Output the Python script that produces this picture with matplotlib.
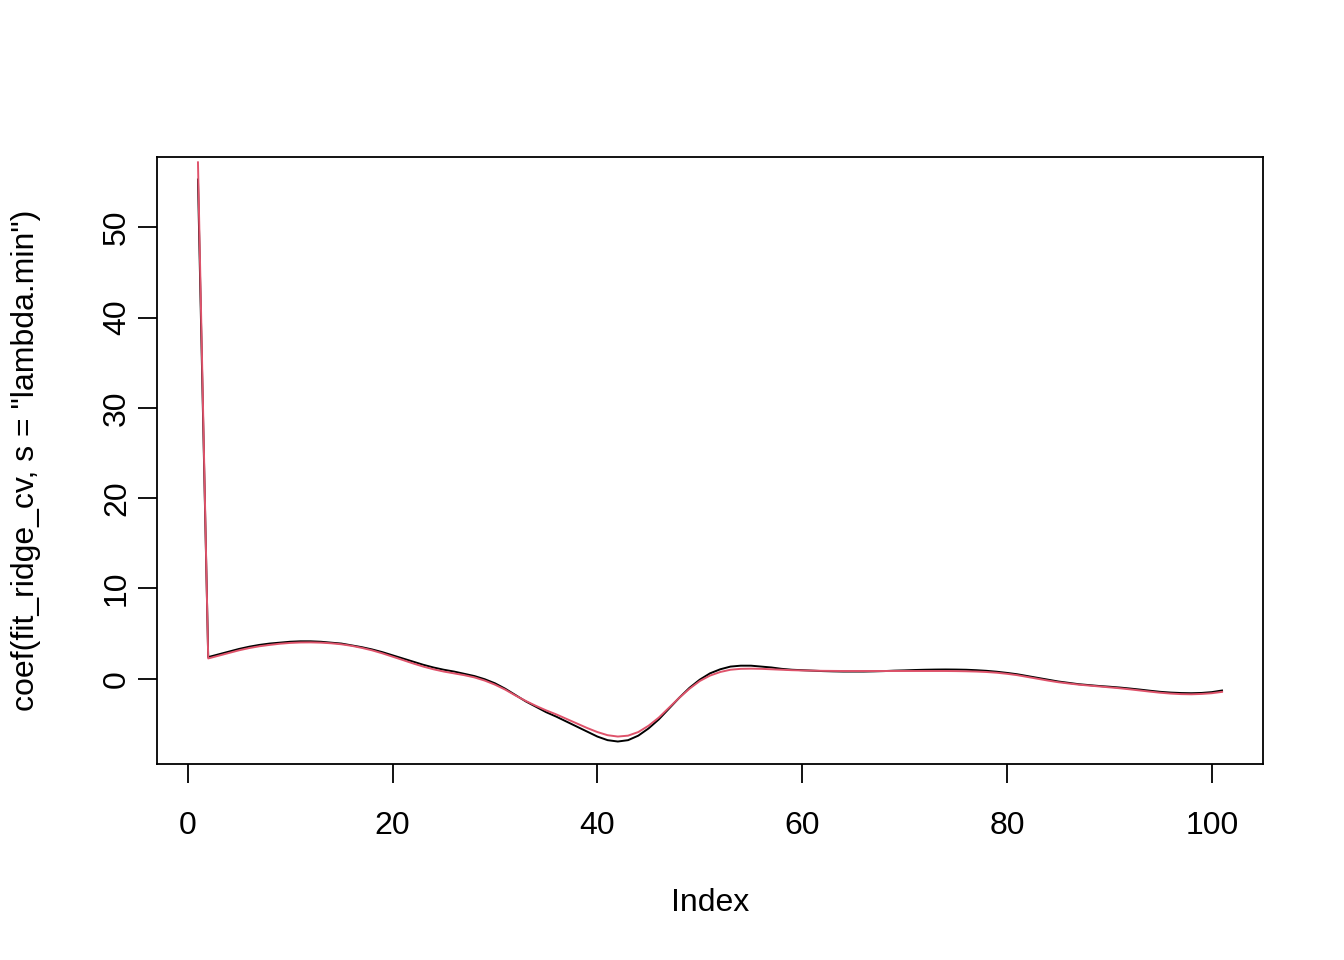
import numpy as np
import matplotlib.pyplot as plt

plt.rcParams['font.family'] = ['Liberation Sans', 'DejaVu Sans']

# Koeffizienten, Index 1..101
idx = list(range(1, 102))

coef_black = [
    55.3, 2.4, 2.7, 3.0, 3.3, 3.55, 3.75, 3.9, 4.0, 4.1,
    4.15, 4.15, 4.1, 4.0, 3.9, 3.7, 3.5, 3.25, 2.95, 2.6,
    2.25, 1.9, 1.55, 1.25, 1.0, 0.8, 0.55, 0.3, -0.05, -0.5,
    -1.1, -1.8, -2.5, -3.1, -3.7, -4.2, -4.75, -5.3, -5.85, -6.4,
    -6.8, -6.95, -6.8, -6.3, -5.5, -4.5, -3.3, -2.1, -1.0, -0.1,
    0.6, 1.05, 1.35, 1.45, 1.45, 1.35, 1.25, 1.1, 1.0, 0.95,
    0.9, 0.85, 0.82, 0.8, 0.8, 0.8, 0.82, 0.85, 0.9, 0.93,
    0.97, 1.0, 1.02, 1.03, 1.02, 1.0, 0.95, 0.88, 0.78, 0.65,
    0.5, 0.3, 0.1, -0.1, -0.3, -0.45, -0.6, -0.7, -0.8, -0.88,
    -0.97, -1.08, -1.2, -1.33, -1.45, -1.53, -1.58, -1.6, -1.57, -1.48,
    -1.3,
]

coef_red = [
    57.2, 2.25, 2.55, 2.85, 3.15, 3.4, 3.6, 3.75, 3.88, 3.97,
    4.02, 4.03, 4.0, 3.93, 3.82, 3.65, 3.42, 3.15, 2.82, 2.45,
    2.08, 1.7, 1.35, 1.05, 0.8, 0.6, 0.4, 0.15, -0.2, -0.65,
    -1.2, -1.85, -2.45, -3.0, -3.5, -3.95, -4.45, -4.95, -5.45, -5.9,
    -6.25, -6.4, -6.3, -5.9, -5.2, -4.3, -3.2, -2.1, -1.1, -0.25,
    0.35, 0.75, 1.0, 1.1, 1.12, 1.1, 1.05, 1.0, 0.95, 0.92,
    0.9, 0.88, 0.87, 0.86, 0.86, 0.86, 0.86, 0.86, 0.86, 0.86,
    0.86, 0.86, 0.86, 0.86, 0.85, 0.83, 0.8, 0.75, 0.67, 0.55,
    0.4, 0.2, 0.0, -0.2, -0.38, -0.52, -0.65, -0.75, -0.85, -0.95,
    -1.05, -1.17, -1.3, -1.43, -1.55, -1.64, -1.7, -1.72, -1.68, -1.6,
    -1.45,
]

xticks = [0, 20, 40, 60, 80, 100]
yticks = [0, 10, 20, 30, 40, 50]

fig = plt.figure(figsize=(13.44, 9.6), dpi=100)
ax = fig.add_axes([157 / 1344, 1 - 764 / 960, (1263 - 157) / 1344, (764 - 157) / 960])

ax.plot(idx, coef_black, color="black", lw=1.4)
ax.plot(idx, coef_red, color="#DF536B", lw=1.4)

# R-artige Achsenbereiche (4 % Rand, nach erster Serie)
xr = max(idx) - min(idx)
ax.set_xlim(min(idx) - 0.04 * xr, max(idx) + 0.04 * xr)
yr = max(coef_black) - min(coef_black)
ax.set_ylim(min(coef_black) - 0.04 * yr, max(coef_black) + 0.04 * yr)

ax.set_xticks(xticks)
ax.set_yticks(yticks)
ax.set_yticklabels([str(t) for t in yticks], rotation=90, va="center")
ax.tick_params(axis="both", direction="out", length=14, width=1.3, labelsize=23)
ax.tick_params(axis="x", pad=20)
ax.tick_params(axis="y", pad=4)
for s in ax.spines.values():
    s.set_linewidth(1.3)

ax.set_xlabel("Index", fontsize=23, labelpad=34)
ax.set_ylabel('coef(fit_ridge_cv, s = "lambda.min")', fontsize=23, labelpad=44)

fig.savefig("out.png", dpi=100)
